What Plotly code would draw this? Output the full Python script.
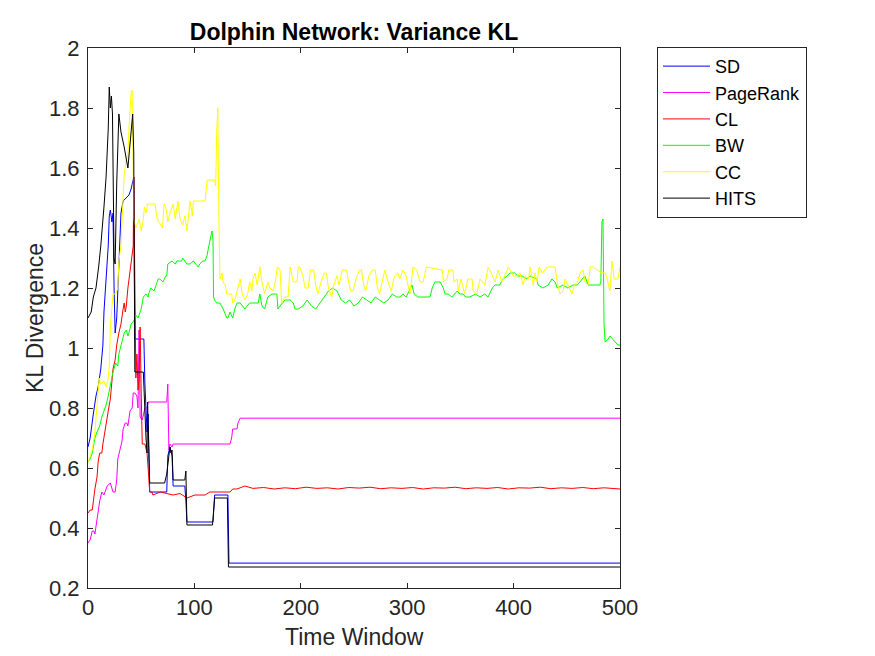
import plotly.graph_objects as go

# ---------------- data ----------------
sd_x = [0, 2, 5, 7.5, 9.5, 12, 14, 15, 17, 19,
        20, 21, 22.5, 23.5, 24.5, 25.5, 27, 29, 31, 33,
        36, 38.5, 40.5, 42.5, 43, 44, 52.5, 53.5, 55.5, 56.5,
        57, 58, 74, 75, 77, 79, 80, 91, 92, 93,
        117.5, 119, 131.5, 132.5, 500]
sd_y = [0.67, 0.70, 0.78, 0.84, 0.87, 0.93, 1.01, 1.12, 1.23, 1.34,
        1.44, 1.46, 1.42, 1.45, 1.20, 1.05, 1.10, 1.25, 1.45, 1.49,
        1.50, 1.51, 1.53, 1.56, 1.57, 1.03, 1.03, 0.88, 0.72, 0.78,
        0.62, 0.52, 0.52, 0.64, 0.67, 0.64, 0.54, 0.54, 0.49, 0.42,
        0.42, 0.51, 0.51, 0.283, 0.283]

pr_x = [0, 2, 4, 5.5, 6.5, 8.5, 9.5, 11, 13, 15,
        16, 18, 21, 22, 23.5, 25.5, 27, 28, 30, 32,
        33, 35, 36.5, 37.5, 39.5, 41.5, 42.5, 44, 46, 47,
        48, 49, 51, 52, 53.5, 55.5, 56.5, 74, 75, 76,
        77, 79, 80, 133.5, 135, 136, 140, 141, 143, 500]
pr_y = [0.35, 0.36, 0.39, 0.39, 0.38, 0.43, 0.47, 0.49, 0.52, 0.51,
        0.52, 0.54, 0.55, 0.54, 0.52, 0.52, 0.56, 0.63, 0.66, 0.69,
        0.73, 0.75, 0.75, 0.74, 0.79, 0.80, 0.85, 0.85, 0.84, 0.80,
        1.06, 0.77, 0.76, 0.78, 0.80, 0.80, 0.82, 0.82, 0.88, 0.66,
        0.68, 0.67, 0.68, 0.68, 0.70, 0.73, 0.73, 0.75, 0.766, 0.766]

cl_x = [0, 2, 4, 5, 6.5, 8.5, 9.5, 11, 13, 14,
        16, 19, 21, 22.5, 23.5, 25.5, 27, 29, 31, 33,
        34, 35, 36, 37.5, 38.5, 40.5, 42.5, 43, 44, 45,
        46, 47, 48, 49, 50, 51, 53.5, 55.5, 56.5, 58,
        60, 61, 68, 74, 80, 86.5, 93, 100.5, 110, 114.5,
        124, 133.5, 136, 140, 147.5, 155, 165, 175, 185, 195,
        205, 215, 225, 235, 245, 255, 265, 275, 285, 295,
        305, 315, 325, 335, 345, 355, 365, 375, 385, 395,
        405, 415, 425, 435, 445, 455, 465, 475, 485, 495,
        500]
cl_y = [0.45, 0.46, 0.46, 0.49, 0.53, 0.57, 0.62, 0.65, 0.65, 0.68,
        0.73, 0.79, 0.83, 0.88, 0.93, 0.96, 1.01, 1.05, 1.08, 1.13,
        1.15, 1.12, 1.14, 1.20, 1.23, 1.27, 1.34, 1.57, 1.10, 0.90,
        0.98, 0.86, 0.90, 1.07, 0.85, 0.68, 0.68, 0.65, 0.60, 0.52,
        0.52, 0.51, 0.52, 0.515, 0.51, 0.515, 0.50, 0.51, 0.51, 0.52,
        0.52, 0.52, 0.53, 0.53, 0.54, 0.532, 0.535, 0.530, 0.534, 0.531,
        0.536, 0.532, 0.534, 0.530, 0.535, 0.533, 0.536, 0.531, 0.534, 0.532,
        0.535, 0.530, 0.534, 0.533, 0.536, 0.531, 0.534, 0.532, 0.535, 0.530,
        0.534, 0.533, 0.536, 0.531, 0.534, 0.532, 0.535, 0.531, 0.534, 0.532,
        0.530]

bw_x = [0, 2, 4, 6.5, 8.5, 11, 13, 15, 17, 19,
        21, 23.5, 26, 28, 29, 31, 34, 36, 37.5, 38.5,
        40.5, 43, 45, 47, 48, 50, 52, 54.5, 56.5, 57,
        59, 62, 64, 66, 67.5, 70.5, 73, 74, 75, 79,
        82, 83.5, 88, 89, 93, 96, 99, 101.5, 103.5, 105,
        108, 110, 112, 113, 114.5, 116.5, 117.5, 118, 119, 121,
        124, 127, 130.5, 131.5, 133.5, 135, 136, 138, 140, 143,
        145, 147.5, 149.5, 152, 160, 161.5, 163.5, 166, 169, 173,
        177.5, 178.5, 180.5, 185, 190, 193, 194.5, 197.5, 202, 206,
        210, 214, 218, 222, 226, 230, 234, 238, 242, 246,
        250, 254, 258, 262, 266, 270, 274, 278, 282, 286,
        290, 293, 296, 299, 304.5, 306.5, 310, 315, 321.5, 323.5,
        326, 331, 334, 335.5, 338.5, 342, 347, 349.5, 352.5, 355,
        359, 364, 368.5, 373, 376, 380, 382.5, 387, 390, 394,
        396.5, 401, 404, 408, 412.5, 415.5, 422, 423, 427.5, 432.5,
        436, 439, 441, 446.5, 451, 456, 460, 464.5, 467, 470,
        476.5, 481, 482, 483, 484, 485, 486, 489, 490.5, 493,
        495, 498, 500]
bw_y = [0.62, 0.63, 0.65, 0.70, 0.72, 0.74, 0.77, 0.79, 0.81, 0.84,
        0.88, 0.92, 0.95, 0.94, 0.98, 1.01, 1.05, 1.06, 1.04, 1.05,
        1.08, 1.09, 1.11, 1.10, 1.11, 1.13, 1.17, 1.18, 1.17, 1.18,
        1.20, 1.19, 1.21, 1.23, 1.23, 1.22, 1.24, 1.24, 1.28, 1.29,
        1.28, 1.29, 1.29, 1.30, 1.28, 1.28, 1.29, 1.28, 1.27, 1.28,
        1.29, 1.29, 1.31, 1.33, 1.36, 1.39, 1.36, 1.17, 1.16, 1.15,
        1.15, 1.13, 1.10, 1.10, 1.12, 1.11, 1.10, 1.13, 1.15, 1.15,
        1.14, 1.13, 1.14, 1.15, 1.15, 1.18, 1.14, 1.13, 1.17, 1.18,
        1.18, 1.13, 1.14, 1.16, 1.16, 1.15, 1.13, 1.13, 1.14, 1.16,
        1.14, 1.13, 1.15, 1.17, 1.19, 1.20, 1.19, 1.16, 1.15, 1.16,
        1.14, 1.15, 1.17, 1.16, 1.15, 1.17, 1.16, 1.15, 1.16, 1.18,
        1.17, 1.17, 1.18, 1.17, 1.21, 1.18, 1.17, 1.17, 1.17, 1.20,
        1.22, 1.22, 1.20, 1.18, 1.18, 1.17, 1.19, 1.18, 1.18, 1.17,
        1.17, 1.18, 1.17, 1.18, 1.17, 1.20, 1.21, 1.21, 1.23, 1.24,
        1.25, 1.25, 1.24, 1.24, 1.23, 1.24, 1.23, 1.21, 1.20, 1.21,
        1.23, 1.22, 1.20, 1.21, 1.20, 1.21, 1.21, 1.23, 1.24, 1.21,
        1.21, 1.21, 1.22, 1.42, 1.43, 1.08, 1.02, 1.03, 1.04, 1.03,
        1.02, 1.01, 1.01]

cc_x = [0, 4, 6.5, 8.5, 9.5, 10.5, 12, 15, 17, 19,
        20, 21, 23.5, 26, 28, 29, 31, 33, 34, 36,
        37.5, 38.5, 40.5, 41.5, 42.5, 43, 45, 47, 48, 50,
        52, 53, 54.5, 56, 63, 65, 68, 70, 71.5, 73,
        74, 75, 77, 80, 82, 84.5, 86.5, 88, 89, 91,
        93, 95, 96, 98, 99, 110, 112, 119, 120, 121,
        122, 123, 124, 126, 127, 129, 130.5, 135, 136, 138,
        141, 143, 145, 147.5, 150, 152, 154, 155, 157, 159,
        161.5, 163.5, 166, 169, 171, 174, 176, 178, 180.5, 182,
        185, 188, 190, 193, 196.5, 197.5, 199, 202, 204, 207,
        209, 212, 214, 216, 219, 222, 224, 226, 229, 231,
        234, 236, 239, 243, 245, 247, 249, 252, 255, 257,
        259, 261, 264, 267, 270, 272, 274, 277, 279, 282,
        285, 288, 291, 293, 296, 299,
        302.5, 305.5, 309, 312, 315, 318, 333, 334, 337.5, 339,
        343, 344, 347, 348, 350.5, 354, 357, 361, 362, 365.5,
        368.5, 373, 376, 379, 382.5, 385.5, 389, 394, 395, 398.5,
        399.5, 403, 406, 409, 411, 414, 415.5, 418.5, 420, 422,
        424, 427, 431.5, 439, 441, 443.5, 446.5, 448.5, 451, 455,
        457, 460, 462.5, 465.5, 467, 470, 472, 475, 478.5, 483,
        486, 488, 490.5, 492.5, 494.5, 498, 500]
cc_y = [0.62, 0.66, 0.72, 0.80, 0.85, 0.90, 0.88, 0.89, 0.87, 0.90,
        0.94, 1.07, 1.18, 1.18, 1.20, 1.29, 1.34, 1.47, 1.58, 1.63,
        1.64, 1.73, 1.85, 1.86, 1.60, 1.43, 1.40, 1.42, 1.43, 1.39,
        1.43, 1.47, 1.45, 1.48, 1.48, 1.43, 1.41, 1.40, 1.48, 1.47,
        1.45, 1.42, 1.45, 1.48, 1.43, 1.49, 1.43, 1.42, 1.41, 1.44,
        1.39, 1.46, 1.49, 1.44, 1.49, 1.49, 1.56, 1.56, 1.54, 1.72,
        1.80, 1.44, 1.23, 1.25, 1.22, 1.21, 1.18, 1.18, 1.15, 1.16,
        1.20, 1.23, 1.18, 1.16, 1.18, 1.22, 1.19, 1.23, 1.25, 1.21,
        1.27, 1.22, 1.18, 1.22, 1.20, 1.19, 1.22, 1.27, 1.26, 1.15,
        1.17, 1.17, 1.27, 1.22, 1.22, 1.27, 1.27, 1.24, 1.20, 1.20,
        1.26, 1.26, 1.21, 1.18, 1.22, 1.25, 1.25, 1.20, 1.17, 1.21,
        1.24, 1.21, 1.26, 1.26, 1.22, 1.19, 1.19, 1.23, 1.26, 1.26,
        1.21, 1.19, 1.24, 1.26, 1.26, 1.20, 1.18, 1.23, 1.26, 1.22,
        1.19, 1.24, 1.25, 1.23, 1.26, 1.24,
        1.18, 1.27, 1.26, 1.22, 1.22, 1.27, 1.26, 1.22, 1.23, 1.26,
        1.26, 1.22, 1.23, 1.19, 1.23, 1.18, 1.23, 1.23, 1.19, 1.18,
        1.23, 1.21, 1.27, 1.25, 1.22, 1.26, 1.22, 1.26, 1.27, 1.25,
        1.24, 1.24, 1.25, 1.21, 1.24, 1.23, 1.27, 1.21, 1.25, 1.22,
        1.27, 1.25, 1.27, 1.27, 1.22, 1.18, 1.19, 1.23, 1.21, 1.18,
        1.21, 1.22, 1.25, 1.26, 1.22, 1.21, 1.27, 1.27, 1.26, 1.25,
        1.25, 1.23, 1.19, 1.29, 1.23, 1.23, 1.27]

hits_x = [0, 3, 5, 7.5, 10, 12, 15, 17, 19, 20,
          21, 22, 23, 23.5, 24.5, 25.5, 27, 29, 31, 34,
          36, 37.5, 38.5, 40, 42, 43, 44, 52, 53, 54.5,
          55.5, 56, 57, 58, 72, 74, 76, 77, 78, 79,
          80, 91, 92, 93, 117, 119, 131, 132, 500]
hits_y = [1.10, 1.12, 1.17, 1.20, 1.27, 1.34, 1.47, 1.57, 1.73, 1.87,
          1.80, 1.84, 1.78, 1.60, 1.30, 1.28, 1.55, 1.78, 1.72, 1.67,
          1.62, 1.60, 1.64, 1.70, 1.78, 1.65, 0.92, 0.92, 0.80, 0.70,
          0.65, 0.82, 0.68, 0.55, 0.55, 0.58, 0.64, 0.67, 0.65, 0.66,
          0.56, 0.56, 0.59, 0.41, 0.41, 0.50, 0.50, 0.27, 0.27]

series_names = ["SD", "PageRank", "CL", "BW", "CC", "HITS"]
series_x = [sd_x, pr_x, cl_x, bw_x, cc_x, hits_x]
series_y = [sd_y, pr_y, cl_y, bw_y, cc_y, hits_y]
series_colors = ["#0000FF", "#FF00FF", "#FF0000", "#00FF00", "#FFFF00", "#000000"]

x_ticks = [0, 100, 200, 300, 400, 500]
y_ticks = [0.2, 0.4, 0.6, 0.8, 1, 1.2, 1.4, 1.6, 1.8, 2]

FONT = "Liberation Sans, Arial, Helvetica, sans-serif"
AX = "#262626"

fig = go.Figure()
for name, xs, ys, col in zip(series_names, series_x, series_y, series_colors):
    n = min(len(xs), len(ys))
    fig.add_trace(go.Scatter(x=xs[:n], y=ys[:n], mode="lines", name=name,
                             line=dict(color=col, width=1)))

fig.update_layout(
    width=875, height=656,
    margin=dict(l=88, r=255, t=48, b=68),
    paper_bgcolor="white", plot_bgcolor="white",
    font=dict(family=FONT, size=22, color=AX),
    title=dict(text="<b>Dolphin Network: Variance KL</b>", x=0.5, xref="paper",
               xanchor="center",
               y=1 - 32 / 656, yref="container", yanchor="middle",
               font=dict(family=FONT, size=23, color="black")),
    showlegend=True,
    legend=dict(x=(657 - 88) / 532, y=1.002, xanchor="left", yanchor="top",
                bordercolor=AX, borderwidth=1, bgcolor="white",
                itemwidth=47,
                font=dict(family=FONT, size=18, color="black"),
                tracegroupgap=0),
    annotations=[
        dict(text="KL Divergence", xref="paper", yref="paper",
             x=(35 - 88) / 532, y=0.5, xanchor="center", yanchor="middle",
             textangle=-90, showarrow=False,
             font=dict(family=FONT, size=23, color=AX)),
        dict(text="Time Window", xref="paper", yref="paper",
             x=0.5, y=(588 - 637) / 540, xanchor="center", yanchor="middle",
             showarrow=False,
             font=dict(family=FONT, size=23, color=AX)),
    ],
)
fig.update_xaxes(range=[0, 500], tickvals=x_ticks, ticks="inside", ticklen=5,
                 tickcolor=AX, showline=True, linecolor=AX, linewidth=1,
                 mirror="ticks", showgrid=False, zeroline=False,
                 tickfont=dict(family=FONT, size=22, color=AX))
fig.update_yaxes(range=[0.2, 2], tickvals=y_ticks, ticks="inside", ticklen=5,
                 tickcolor=AX, showline=True, linecolor=AX, linewidth=1,
                 mirror="ticks", showgrid=False, zeroline=False,
                 ticklabelstandoff=3,
                 tickfont=dict(family=FONT, size=22, color=AX))

fig.write_html("out.html")
